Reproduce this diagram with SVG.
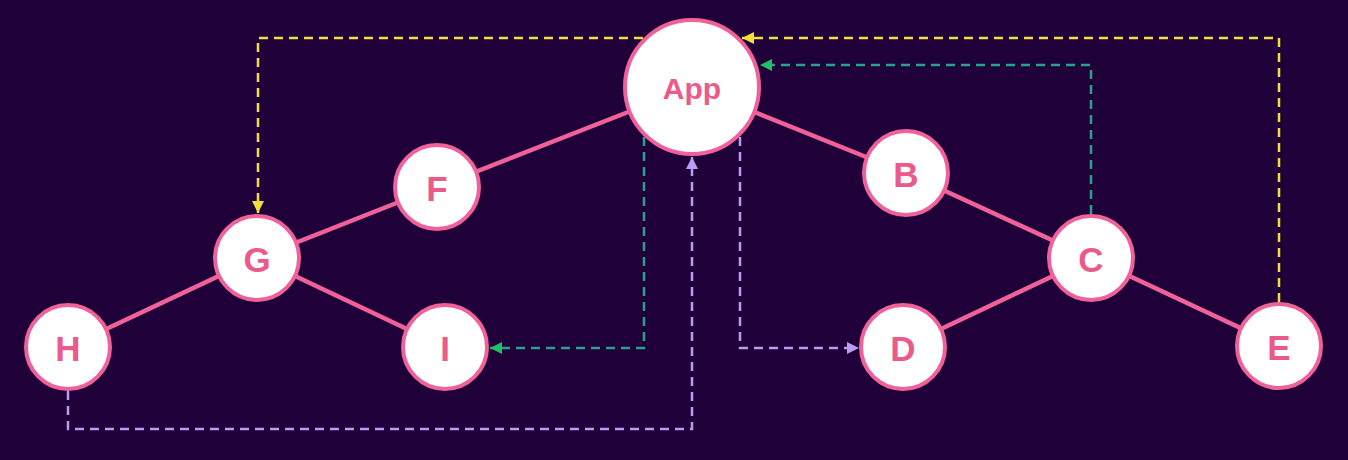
<svg xmlns="http://www.w3.org/2000/svg" width="1348" height="460" viewBox="0 0 1348 460">
<defs>
<style>
.edge{stroke:#f0619a;stroke-width:4.5;fill:none}
.node circle{fill:#ffffff;stroke:#f0619a;stroke-width:4}
.node text{fill:#ec5a8a;font-family:"Liberation Sans",Arial,sans-serif;font-weight:bold;text-anchor:middle;dominant-baseline:central}
.lbl{font-size:35px}
.big{font-size:30px}
.dash{fill:none;stroke-width:2.5;stroke-dasharray:9 6}
.y{stroke:#f2dd45}
.g{stroke:#2aa08e}
.l{stroke:#b79cf0}
</style>
<marker id="ay" viewBox="0 0 12 12" refX="12" refY="6" markerWidth="12" markerHeight="12" markerUnits="userSpaceOnUse" orient="auto"><path d="M0,0 L12,6 L0,12 Z" fill="#f5e03a"/></marker>
<marker id="ag" viewBox="0 0 12 12" refX="12" refY="6" markerWidth="12" markerHeight="12" markerUnits="userSpaceOnUse" orient="auto"><path d="M0,0 L12,6 L0,12 Z" fill="#22c060"/></marker>
<marker id="al" viewBox="0 0 12 12" refX="12" refY="6" markerWidth="12" markerHeight="12" markerUnits="userSpaceOnUse" orient="auto"><path d="M0,0 L12,6 L0,12 Z" fill="#b99cf5"/></marker>
</defs>
<rect width="1348" height="460" fill="#1f0039"/>
<g id="connectors">
<line class="edge" x1="692" y1="87" x2="437" y2="187"/>
<line class="edge" x1="437" y1="187" x2="257" y2="258"/>
<line class="edge" x1="257" y1="258" x2="68" y2="347"/>
<line class="edge" x1="257" y1="258" x2="445" y2="347"/>
<line class="edge" x1="692" y1="87" x2="906" y2="173"/>
<line class="edge" x1="906" y1="173" x2="1091" y2="258"/>
<line class="edge" x1="1091" y1="258" x2="903" y2="347"/>
<line class="edge" x1="1091" y1="258" x2="1279" y2="346"/>
<path class="dash y" d="M643,38 H258 V213" marker-end="url(#ay)"/>
<path class="dash y" d="M1279,302 V38 H742" marker-end="url(#ay)"/>
<path class="dash g" d="M1091,214 V65 H760" marker-end="url(#ag)"/>
<path class="dash g" d="M644,137 V348 H490" marker-end="url(#ag)"/>
<path class="dash l" d="M68,391 V429 H692 V157" marker-end="url(#al)"/>
<path class="dash l" d="M740,137 V348 H859" marker-end="url(#al)"/>
</g>
<g id="node-app" class="node"><circle cx="692" cy="87" r="67"/><text class="big" x="692" y="88">App</text></g>
<g id="node-f" class="node"><circle cx="437" cy="187" r="42"/><text class="lbl" x="437" y="188">F</text></g>
<g id="node-b" class="node"><circle cx="906" cy="173" r="42"/><text class="lbl" x="906" y="174">B</text></g>
<g id="node-g" class="node"><circle cx="257" cy="258" r="42"/><text class="lbl" x="257" y="259">G</text></g>
<g id="node-c" class="node"><circle cx="1091" cy="258" r="42"/><text class="lbl" x="1091" y="259">C</text></g>
<g id="node-h" class="node"><circle cx="68" cy="347" r="42"/><text class="lbl" x="68" y="348">H</text></g>
<g id="node-i" class="node"><circle cx="445" cy="347" r="42"/><text class="lbl" x="445" y="348">I</text></g>
<g id="node-d" class="node"><circle cx="903" cy="347" r="42"/><text class="lbl" x="903" y="348">D</text></g>
<g id="node-e" class="node"><circle cx="1279" cy="346" r="42"/><text class="lbl" x="1279" y="347">E</text></g>
</svg>
